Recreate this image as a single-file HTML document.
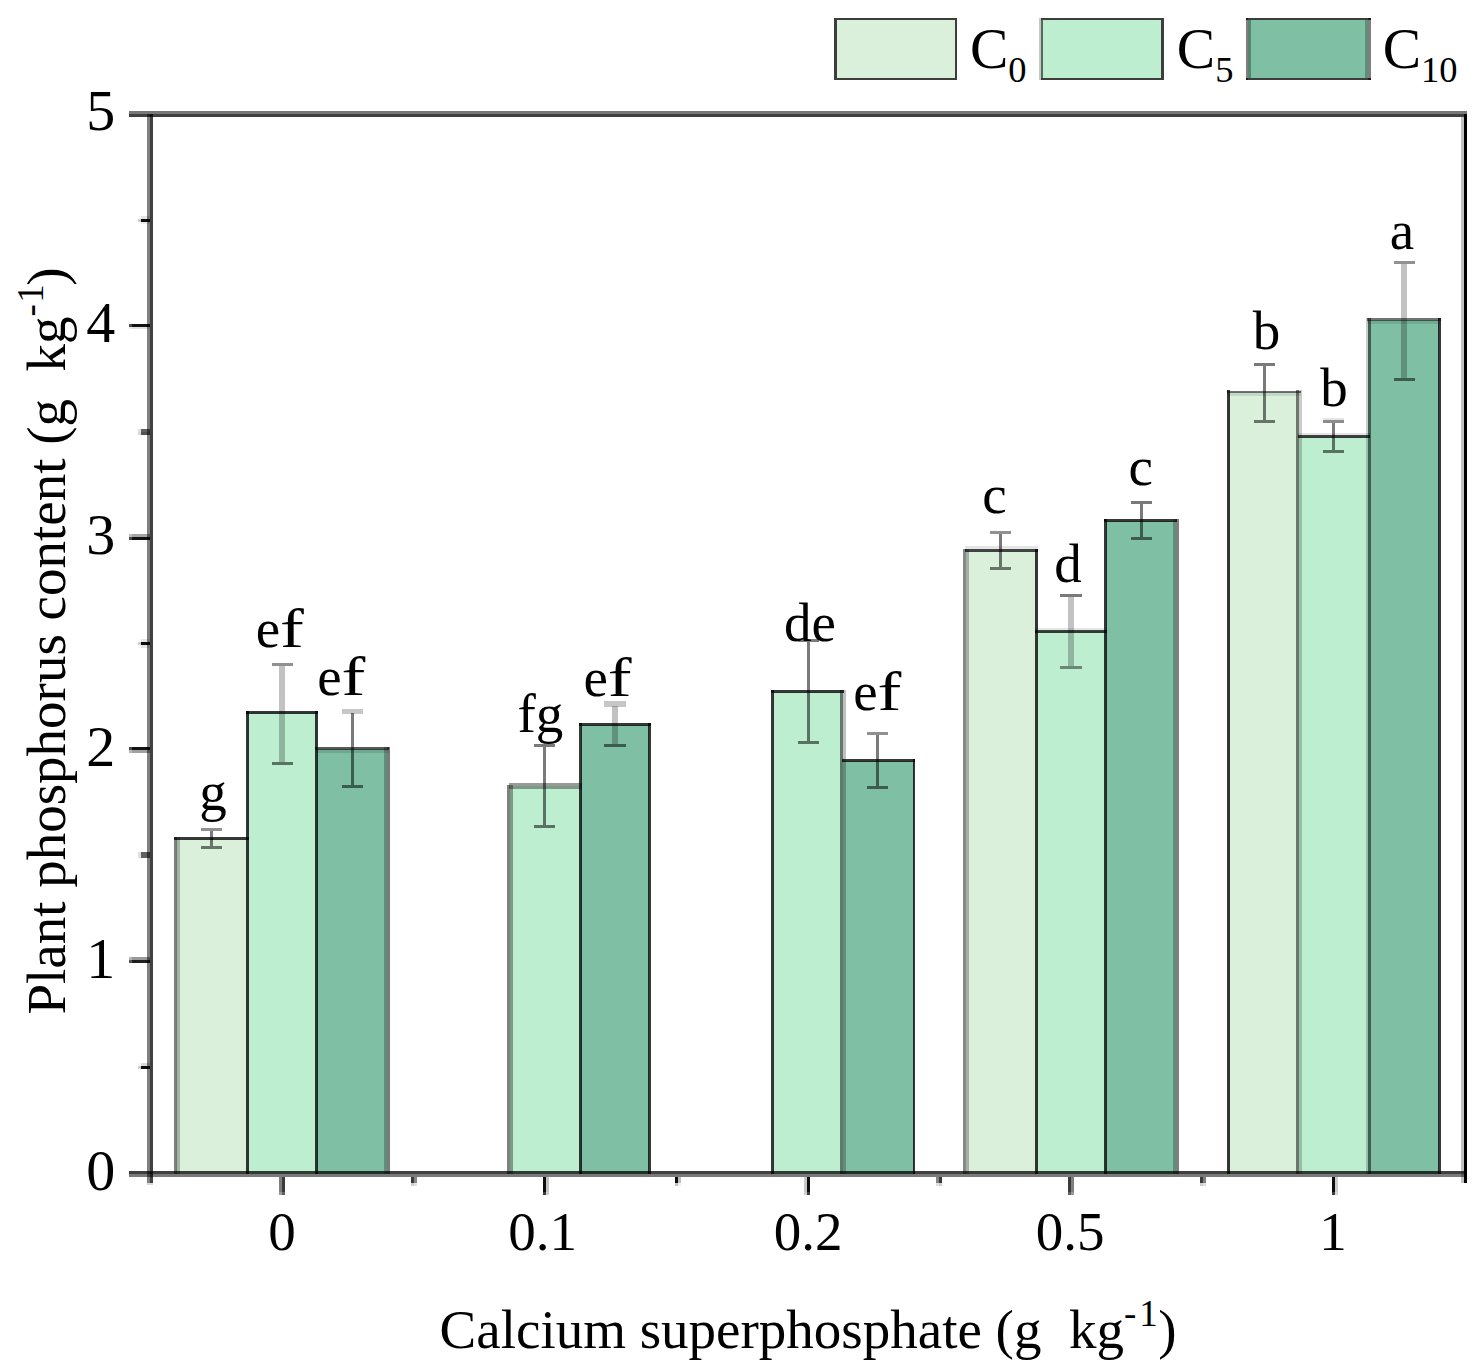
<!DOCTYPE html><html><head><meta charset="utf-8"><title>Plant phosphorus content</title><style>html,body{margin:0;padding:0;background:#fff;overflow:hidden;}svg{display:block;}text{font-family:"Liberation Serif", serif;fill:#000;}</style></head><body>
<svg width="1484" height="1370" viewBox="0 0 1484 1370" shape-rendering="crispEdges">
<rect x="0.0" y="0.0" width="1484.0" height="1370.0" fill="#fff"/>
<rect x="175.6" y="838.6" width="71.7" height="335.1" fill="#daf0db"/>
<rect x="247.3" y="712.4" width="69.3" height="461.3" fill="#bdeed0"/>
<rect x="316.6" y="748.5" width="70.5" height="425.2" fill="#7fbfa4"/>
<rect x="174.2" y="837.2" width="2.8" height="336.5" fill="rgba(0,0,0,0.50)"/>
<rect x="177.0" y="837.2" width="2.8" height="336.5" fill="rgba(0,0,0,0.25)"/>
<rect x="245.9" y="711.0" width="2.8" height="462.7" fill="rgba(0,0,0,0.78)"/>
<rect x="315.2" y="711.0" width="2.8" height="462.7" fill="rgba(0,0,0,0.78)"/>
<rect x="384.4" y="747.1" width="2.7" height="426.6" fill="rgba(0,0,0,0.25)"/>
<rect x="387.1" y="747.1" width="2.8" height="426.6" fill="rgba(0,0,0,0.52)"/>
<rect x="174.2" y="837.2" width="74.5" height="2.8" fill="rgba(0,0,0,0.78)"/>
<rect x="245.9" y="711.0" width="72.1" height="2.8" fill="rgba(0,0,0,0.78)"/>
<rect x="315.2" y="747.2" width="73.3" height="2.7" fill="rgba(0,0,0,0.65)"/>
<rect x="315.2" y="749.9" width="73.3" height="2.7" fill="rgba(0,0,0,0.12)"/>
<rect x="510.1" y="786.2" width="70.4" height="387.5" fill="#bdeed0"/>
<rect x="580.5" y="724.7" width="68.8" height="449.0" fill="#7fbfa4"/>
<rect x="507.1" y="784.8" width="3.0" height="388.9" fill="rgba(0,0,0,0.50)"/>
<rect x="510.1" y="784.8" width="2.7" height="388.9" fill="rgba(0,0,0,0.35)"/>
<rect x="579.1" y="723.3" width="2.8" height="450.4" fill="rgba(0,0,0,0.78)"/>
<rect x="647.9" y="723.3" width="2.8" height="450.4" fill="rgba(0,0,0,0.78)"/>
<rect x="508.7" y="783.1" width="73.2" height="3.1" fill="rgba(0,0,0,0.40)"/>
<rect x="508.7" y="786.2" width="73.2" height="2.8" fill="rgba(0,0,0,0.35)"/>
<rect x="579.1" y="723.3" width="71.6" height="2.8" fill="rgba(0,0,0,0.78)"/>
<rect x="772.5" y="691.5" width="70.4" height="482.2" fill="#bdeed0"/>
<rect x="842.9" y="760.5" width="71.0" height="413.2" fill="#7fbfa4"/>
<rect x="771.1" y="690.1" width="2.8" height="483.6" fill="rgba(0,0,0,0.78)"/>
<rect x="840.0" y="690.1" width="2.9" height="483.6" fill="rgba(0,0,0,0.49)"/>
<rect x="842.9" y="690.1" width="2.9" height="483.6" fill="rgba(0,0,0,0.25)"/>
<rect x="912.5" y="759.1" width="2.8" height="414.6" fill="rgba(0,0,0,0.78)"/>
<rect x="771.1" y="690.1" width="73.2" height="2.8" fill="rgba(0,0,0,0.78)"/>
<rect x="841.5" y="759.1" width="73.8" height="2.8" fill="rgba(0,0,0,0.78)"/>
<rect x="965.9" y="550.2" width="70.6" height="623.5" fill="#daf0db"/>
<rect x="1036.5" y="631.2" width="69.1" height="542.5" fill="#bdeed0"/>
<rect x="1105.6" y="520.5" width="70.4" height="653.2" fill="#7fbfa4"/>
<rect x="963.2" y="548.8" width="2.7" height="624.9" fill="rgba(0,0,0,0.47)"/>
<rect x="965.9" y="548.8" width="2.7" height="624.9" fill="rgba(0,0,0,0.26)"/>
<rect x="1035.1" y="548.8" width="2.8" height="624.9" fill="rgba(0,0,0,0.78)"/>
<rect x="1104.2" y="519.1" width="2.8" height="654.6" fill="rgba(0,0,0,0.78)"/>
<rect x="1173.2" y="519.1" width="2.8" height="654.6" fill="rgba(0,0,0,0.25)"/>
<rect x="1176.0" y="519.1" width="2.7" height="654.6" fill="rgba(0,0,0,0.50)"/>
<rect x="964.5" y="546.4" width="73.4" height="2.1" fill="rgba(0,0,0,0.10)"/>
<rect x="964.5" y="548.5" width="73.4" height="3.2" fill="rgba(0,0,0,0.72)"/>
<rect x="1035.1" y="628.0" width="71.9" height="2.0" fill="rgba(0,0,0,0.10)"/>
<rect x="1035.1" y="630.0" width="71.9" height="2.7" fill="rgba(0,0,0,0.75)"/>
<rect x="1104.2" y="519.1" width="73.2" height="2.8" fill="rgba(0,0,0,0.78)"/>
<rect x="1228.3" y="391.5" width="71.0" height="782.2" fill="#daf0db"/>
<rect x="1299.3" y="436.5" width="68.9" height="737.2" fill="#bdeed0"/>
<rect x="1368.2" y="319.6" width="71.0" height="854.1" fill="#7fbfa4"/>
<rect x="1226.9" y="390.1" width="2.8" height="783.6" fill="rgba(0,0,0,0.78)"/>
<rect x="1296.3" y="390.1" width="3.0" height="783.6" fill="rgba(0,0,0,0.50)"/>
<rect x="1299.3" y="390.1" width="2.3" height="783.6" fill="rgba(0,0,0,0.20)"/>
<rect x="1365.8" y="318.2" width="2.4" height="855.5" fill="rgba(0,0,0,0.20)"/>
<rect x="1368.2" y="318.2" width="2.9" height="855.5" fill="rgba(0,0,0,0.50)"/>
<rect x="1437.8" y="318.2" width="2.8" height="855.5" fill="rgba(0,0,0,0.78)"/>
<rect x="1226.9" y="390.5" width="73.8" height="2.3" fill="rgba(0,0,0,0.55)"/>
<rect x="1226.9" y="392.8" width="73.8" height="2.7" fill="rgba(0,0,0,0.10)"/>
<rect x="1297.9" y="432.5" width="71.7" height="2.7" fill="rgba(0,0,0,0.10)"/>
<rect x="1297.9" y="435.2" width="71.7" height="2.7" fill="rgba(0,0,0,0.75)"/>
<rect x="1366.8" y="318.1" width="73.8" height="2.9" fill="rgba(0,0,0,0.55)"/>
<rect x="1366.8" y="321.0" width="73.8" height="2.7" fill="rgba(0,0,0,0.10)"/>
<rect x="210.0" y="831.1" width="2.8" height="15.1" fill="rgba(0,0,0,0.52)"/>
<rect x="200.8" y="828.3" width="21.2" height="2.8" fill="rgba(0,0,0,0.43)"/>
<rect x="200.8" y="846.2" width="21.2" height="2.8" fill="rgba(0,0,0,0.52)"/>
<rect x="279.3" y="665.8" width="5.6" height="96.3" fill="rgba(0,0,0,0.24)"/>
<rect x="271.5" y="663.0" width="21.2" height="2.8" fill="rgba(0,0,0,0.43)"/>
<rect x="271.5" y="762.1" width="21.2" height="2.8" fill="rgba(0,0,0,0.52)"/>
<rect x="351.1" y="712.7" width="2.8" height="72.7" fill="rgba(0,0,0,0.52)"/>
<rect x="341.9" y="708.5" width="21.2" height="2.8" fill="rgba(0,0,0,0.22)"/>
<rect x="341.9" y="711.3" width="21.2" height="2.8" fill="rgba(0,0,0,0.22)"/>
<rect x="341.9" y="785.4" width="21.2" height="2.8" fill="rgba(0,0,0,0.52)"/>
<rect x="543.1" y="746.8" width="2.8" height="78.4" fill="rgba(0,0,0,0.52)"/>
<rect x="533.9" y="744.0" width="21.2" height="2.8" fill="rgba(0,0,0,0.52)"/>
<rect x="533.9" y="825.2" width="21.2" height="2.8" fill="rgba(0,0,0,0.52)"/>
<rect x="612.2" y="705.6" width="5.6" height="38.4" fill="rgba(0,0,0,0.24)"/>
<rect x="604.4" y="701.4" width="21.2" height="2.8" fill="rgba(0,0,0,0.22)"/>
<rect x="604.4" y="704.2" width="21.2" height="2.8" fill="rgba(0,0,0,0.22)"/>
<rect x="604.4" y="744.0" width="21.2" height="2.8" fill="rgba(0,0,0,0.52)"/>
<rect x="807.2" y="641.6" width="2.8" height="99.6" fill="rgba(0,0,0,0.52)"/>
<rect x="798.0" y="638.8" width="21.2" height="2.8" fill="rgba(0,0,0,0.52)"/>
<rect x="798.0" y="741.2" width="21.2" height="2.8" fill="rgba(0,0,0,0.52)"/>
<rect x="876.3" y="734.8" width="2.8" height="51.0" fill="rgba(0,0,0,0.52)"/>
<rect x="867.1" y="732.0" width="21.2" height="2.8" fill="rgba(0,0,0,0.43)"/>
<rect x="867.1" y="785.8" width="21.2" height="2.8" fill="rgba(0,0,0,0.52)"/>
<rect x="999.4" y="533.9" width="2.8" height="33.3" fill="rgba(0,0,0,0.52)"/>
<rect x="990.2" y="531.1" width="21.2" height="2.8" fill="rgba(0,0,0,0.43)"/>
<rect x="990.2" y="567.2" width="21.2" height="2.8" fill="rgba(0,0,0,0.52)"/>
<rect x="1068.1" y="596.8" width="5.6" height="69.1" fill="rgba(0,0,0,0.24)"/>
<rect x="1060.3" y="594.0" width="21.2" height="2.8" fill="rgba(0,0,0,0.52)"/>
<rect x="1060.3" y="665.9" width="21.2" height="2.8" fill="rgba(0,0,0,0.43)"/>
<rect x="1140.4" y="503.8" width="2.8" height="33.3" fill="rgba(0,0,0,0.52)"/>
<rect x="1131.2" y="501.0" width="21.2" height="2.8" fill="rgba(0,0,0,0.52)"/>
<rect x="1131.2" y="537.1" width="21.2" height="2.8" fill="rgba(0,0,0,0.52)"/>
<rect x="1262.7" y="365.5" width="2.8" height="54.5" fill="rgba(0,0,0,0.52)"/>
<rect x="1253.5" y="362.7" width="21.2" height="2.8" fill="rgba(0,0,0,0.52)"/>
<rect x="1253.5" y="420.0" width="21.2" height="2.8" fill="rgba(0,0,0,0.52)"/>
<rect x="1332.2" y="422.6" width="2.8" height="27.4" fill="rgba(0,0,0,0.52)"/>
<rect x="1323.0" y="418.2" width="21.2" height="2.2" fill="rgba(0,0,0,0.10)"/>
<rect x="1323.0" y="420.4" width="21.2" height="2.6" fill="rgba(0,0,0,0.45)"/>
<rect x="1323.0" y="450.0" width="21.2" height="2.8" fill="rgba(0,0,0,0.52)"/>
<rect x="1401.3" y="263.7" width="5.6" height="114.2" fill="rgba(0,0,0,0.24)"/>
<rect x="1393.5" y="260.9" width="21.2" height="2.8" fill="rgba(0,0,0,0.43)"/>
<rect x="1393.5" y="377.9" width="21.2" height="2.8" fill="rgba(0,0,0,0.52)"/>
<text x="199.2" y="810.0" font-size="55">g</text>
<text x="255.8" y="647.4" font-size="55">e</text>
<text transform="translate(280.1,647.4) scale(1.3,1)" font-size="55">f</text>
<text x="317.3" y="695.1" font-size="55">e</text>
<text transform="translate(341.6,695.1) scale(1.3,1)" font-size="55">f</text>
<text x="517.4" y="731.7" font-size="55">fg</text>
<text x="583.4" y="695.5" font-size="55">e</text>
<text transform="translate(607.7,695.5) scale(1.3,1)" font-size="55">f</text>
<text x="784.1" y="640.7" font-size="55">de</text>
<text x="853.2" y="710.1" font-size="55">e</text>
<text transform="translate(877.5,710.1) scale(1.3,1)" font-size="55">f</text>
<text x="982.2" y="513.4" font-size="55">c</text>
<text x="1054.3" y="581.8" font-size="55">d</text>
<text x="1128.4" y="485.4" font-size="55">c</text>
<text x="1252.8" y="349.2" font-size="55">b</text>
<text x="1320.3" y="406.0" font-size="55">b</text>
<text x="1389.8" y="249.0" font-size="55">a</text>
<rect x="147.2" y="113.6" width="2.9" height="1069.0" fill="rgba(0,0,0,0.50)"/>
<rect x="150.1" y="113.6" width="2.7" height="1069.0" fill="rgba(0,0,0,0.75)"/>
<rect x="147.2" y="1182.6" width="5.6" height="2.6" fill="rgba(0,0,0,0.15)"/>
<rect x="1461.2" y="116.6" width="3.0" height="1065.9" fill="rgba(0,0,0,0.24)"/>
<rect x="1464.2" y="113.6" width="3.0" height="1068.9" fill="rgba(0,0,0,1.00)"/>
<rect x="129.2" y="110.6" width="1338.0" height="3.0" fill="rgba(0,0,0,0.53)"/>
<rect x="129.2" y="113.6" width="1335.0" height="3.0" fill="rgba(0,0,0,0.75)"/>
<rect x="129.2" y="1170.8" width="1335.0" height="2.9" fill="rgba(0,0,0,0.75)"/>
<rect x="129.2" y="1173.7" width="1335.0" height="3.0" fill="rgba(0,0,0,0.52)"/>
<rect x="1464.2" y="1170.8" width="3.0" height="5.9" fill="rgba(0,0,0,1.00)"/>
<rect x="129.2" y="957.3" width="2.8" height="2.8" fill="rgba(0,0,0,0.30)"/>
<rect x="132.0" y="957.3" width="18.1" height="2.8" fill="rgba(0,0,0,0.40)"/>
<rect x="129.2" y="960.1" width="2.8" height="3.0" fill="rgba(0,0,0,0.66)"/>
<rect x="132.0" y="960.1" width="18.1" height="3.0" fill="rgba(0,0,0,0.88)"/>
<rect x="129.2" y="747.1" width="2.8" height="2.9" fill="rgba(0,0,0,0.70)"/>
<rect x="132.0" y="747.1" width="18.1" height="2.9" fill="rgba(0,0,0,0.93)"/>
<rect x="129.2" y="750.0" width="2.8" height="2.8" fill="rgba(0,0,0,0.28)"/>
<rect x="132.0" y="750.0" width="18.1" height="2.8" fill="rgba(0,0,0,0.37)"/>
<rect x="129.2" y="534.2" width="2.8" height="2.7" fill="rgba(0,0,0,0.26)"/>
<rect x="132.0" y="534.2" width="18.1" height="2.7" fill="rgba(0,0,0,0.35)"/>
<rect x="129.2" y="536.9" width="2.8" height="2.8" fill="rgba(0,0,0,0.70)"/>
<rect x="132.0" y="536.9" width="18.1" height="2.8" fill="rgba(0,0,0,0.93)"/>
<rect x="129.2" y="323.9" width="2.8" height="3.0" fill="rgba(0,0,0,0.70)"/>
<rect x="132.0" y="323.9" width="18.1" height="3.0" fill="rgba(0,0,0,0.93)"/>
<rect x="129.2" y="326.9" width="2.8" height="2.1" fill="rgba(0,0,0,0.09)"/>
<rect x="132.0" y="326.9" width="18.1" height="2.1" fill="rgba(0,0,0,0.12)"/>
<rect x="138.2" y="1063.0" width="2.9" height="3.0" fill="rgba(0,0,0,0.03)"/>
<rect x="141.1" y="1063.0" width="9.0" height="3.0" fill="rgba(0,0,0,0.15)"/>
<rect x="138.2" y="1066.0" width="2.9" height="2.8" fill="rgba(0,0,0,0.19)"/>
<rect x="141.1" y="1066.0" width="9.0" height="2.8" fill="rgba(0,0,0,0.95)"/>
<rect x="138.2" y="852.2" width="2.9" height="2.9" fill="rgba(0,0,0,0.12)"/>
<rect x="141.1" y="852.2" width="9.0" height="2.9" fill="rgba(0,0,0,0.62)"/>
<rect x="138.2" y="855.1" width="2.9" height="2.9" fill="rgba(0,0,0,0.12)"/>
<rect x="141.1" y="855.1" width="9.0" height="2.9" fill="rgba(0,0,0,0.62)"/>
<rect x="138.2" y="639.3" width="2.9" height="2.9" fill="rgba(0,0,0,0.02)"/>
<rect x="141.1" y="639.3" width="9.0" height="2.9" fill="rgba(0,0,0,0.10)"/>
<rect x="138.2" y="642.2" width="2.9" height="2.7" fill="rgba(0,0,0,0.19)"/>
<rect x="141.1" y="642.2" width="9.0" height="2.7" fill="rgba(0,0,0,0.95)"/>
<rect x="138.2" y="644.9" width="2.9" height="2.7" fill="rgba(0,0,0,0.02)"/>
<rect x="141.1" y="644.9" width="9.0" height="2.7" fill="rgba(0,0,0,0.10)"/>
<rect x="138.2" y="429.0" width="2.9" height="2.9" fill="rgba(0,0,0,0.12)"/>
<rect x="141.1" y="429.0" width="9.0" height="2.9" fill="rgba(0,0,0,0.62)"/>
<rect x="138.2" y="431.9" width="2.9" height="2.9" fill="rgba(0,0,0,0.14)"/>
<rect x="141.1" y="431.9" width="9.0" height="2.9" fill="rgba(0,0,0,0.68)"/>
<rect x="138.2" y="216.2" width="2.9" height="2.7" fill="rgba(0,0,0,0.02)"/>
<rect x="141.1" y="216.2" width="9.0" height="2.7" fill="rgba(0,0,0,0.10)"/>
<rect x="138.2" y="218.9" width="2.9" height="2.7" fill="rgba(0,0,0,0.19)"/>
<rect x="141.1" y="218.9" width="9.0" height="2.7" fill="rgba(0,0,0,0.95)"/>
<rect x="138.2" y="221.6" width="2.9" height="2.4" fill="rgba(0,0,0,0.02)"/>
<rect x="141.1" y="221.6" width="9.0" height="2.4" fill="rgba(0,0,0,0.08)"/>
<rect x="279.0" y="1176.7" width="3.0" height="15.3" fill="rgba(0,0,0,0.50)"/>
<rect x="279.0" y="1192.0" width="3.0" height="2.7" fill="rgba(0,0,0,0.40)"/>
<rect x="282.0" y="1176.7" width="3.0" height="15.3" fill="rgba(0,0,0,0.77)"/>
<rect x="282.0" y="1192.0" width="3.0" height="2.7" fill="rgba(0,0,0,0.62)"/>
<rect x="543.0" y="1176.7" width="2.9" height="15.3" fill="rgba(0,0,0,0.95)"/>
<rect x="543.0" y="1192.0" width="2.9" height="2.7" fill="rgba(0,0,0,0.76)"/>
<rect x="545.9" y="1176.7" width="2.9" height="15.3" fill="rgba(0,0,0,0.24)"/>
<rect x="545.9" y="1192.0" width="2.9" height="2.7" fill="rgba(0,0,0,0.19)"/>
<rect x="804.3" y="1176.7" width="2.6" height="15.3" fill="rgba(0,0,0,0.22)"/>
<rect x="804.3" y="1192.0" width="2.6" height="2.7" fill="rgba(0,0,0,0.18)"/>
<rect x="806.9" y="1176.7" width="3.0" height="15.3" fill="rgba(0,0,0,0.95)"/>
<rect x="806.9" y="1192.0" width="3.0" height="2.7" fill="rgba(0,0,0,0.76)"/>
<rect x="1068.3" y="1176.7" width="2.8" height="15.3" fill="rgba(0,0,0,0.77)"/>
<rect x="1068.3" y="1192.0" width="2.8" height="2.7" fill="rgba(0,0,0,0.62)"/>
<rect x="1071.1" y="1176.7" width="2.8" height="15.3" fill="rgba(0,0,0,0.50)"/>
<rect x="1071.1" y="1192.0" width="2.8" height="2.7" fill="rgba(0,0,0,0.40)"/>
<rect x="1332.2" y="1176.7" width="2.8" height="15.3" fill="rgba(0,0,0,0.95)"/>
<rect x="1332.2" y="1192.0" width="2.8" height="2.7" fill="rgba(0,0,0,0.76)"/>
<rect x="1335.0" y="1176.7" width="2.8" height="15.3" fill="rgba(0,0,0,0.20)"/>
<rect x="1335.0" y="1192.0" width="2.8" height="2.7" fill="rgba(0,0,0,0.16)"/>
<rect x="411.1" y="1176.7" width="2.8" height="6.1" fill="rgba(0,0,0,0.77)"/>
<rect x="411.1" y="1182.8" width="2.8" height="2.8" fill="rgba(0,0,0,0.19)"/>
<rect x="413.9" y="1176.7" width="2.9" height="6.1" fill="rgba(0,0,0,0.47)"/>
<rect x="413.9" y="1182.8" width="2.9" height="2.8" fill="rgba(0,0,0,0.12)"/>
<rect x="675.1" y="1176.7" width="2.9" height="6.1" fill="rgba(0,0,0,0.95)"/>
<rect x="675.1" y="1182.8" width="2.9" height="2.8" fill="rgba(0,0,0,0.24)"/>
<rect x="678.0" y="1176.7" width="2.8" height="6.1" fill="rgba(0,0,0,0.25)"/>
<rect x="678.0" y="1182.8" width="2.8" height="2.8" fill="rgba(0,0,0,0.06)"/>
<rect x="936.1" y="1176.7" width="2.8" height="6.1" fill="rgba(0,0,0,0.47)"/>
<rect x="936.1" y="1182.8" width="2.8" height="2.8" fill="rgba(0,0,0,0.12)"/>
<rect x="938.9" y="1176.7" width="2.9" height="6.1" fill="rgba(0,0,0,0.77)"/>
<rect x="938.9" y="1182.8" width="2.9" height="2.8" fill="rgba(0,0,0,0.19)"/>
<rect x="1200.1" y="1176.7" width="3.0" height="6.1" fill="rgba(0,0,0,0.77)"/>
<rect x="1200.1" y="1182.8" width="3.0" height="2.8" fill="rgba(0,0,0,0.19)"/>
<rect x="1203.1" y="1176.7" width="2.7" height="6.1" fill="rgba(0,0,0,0.50)"/>
<rect x="1203.1" y="1182.8" width="2.7" height="2.8" fill="rgba(0,0,0,0.12)"/>
<text x="115.2" y="1190.1" font-size="58" text-anchor="end">0</text>
<text x="115.2" y="978.1" font-size="58" text-anchor="end">1</text>
<text x="115.2" y="766.1" font-size="58" text-anchor="end">2</text>
<text x="115.2" y="554.0" font-size="58" text-anchor="end">3</text>
<text x="115.2" y="342.0" font-size="58" text-anchor="end">4</text>
<text x="115.2" y="130.0" font-size="58" text-anchor="end">5</text>
<text x="282.0" y="1250.3" font-size="55" text-anchor="middle">0</text>
<text x="542.6" y="1250.3" font-size="55" text-anchor="middle">0.1</text>
<text x="808.2" y="1250.3" font-size="55" text-anchor="middle">0.2</text>
<text x="1070.2" y="1250.3" font-size="55" text-anchor="middle">0.5</text>
<text x="1333.0" y="1250.3" font-size="55" text-anchor="middle">1</text>
<text x="439.6" y="1347.6" font-size="55">Calcium superphosphate (g&#160; kg<tspan font-size="37" dy="-21.6">-</tspan><tspan font-size="37" dx="3">1</tspan><tspan dy="21.6" dx="0.5">)</tspan></text>
<text transform="translate(65,1014.6) rotate(-90)" x="0" y="0" font-size="55">Plant phosphorus content (g&#160; kg<tspan font-size="37" dy="-21.6">-</tspan><tspan font-size="37" dx="1.5">1</tspan><tspan dy="21.6" dx="-1.5">)</tspan></text>
<rect x="836.8" y="20.4" width="117.7" height="57.1" fill="#daf0db"/>
<rect x="834.2" y="17.7" width="122.9" height="2.7" fill="rgba(0,0,0,0.76)"/>
<rect x="834.2" y="77.5" width="122.9" height="2.7" fill="rgba(0,0,0,0.76)"/>
<rect x="834.2" y="20.4" width="2.6" height="57.1" fill="rgba(0,0,0,0.76)"/>
<rect x="954.5" y="20.4" width="2.6" height="57.1" fill="rgba(0,0,0,0.76)"/>
<text x="970.0" y="67.8" font-size="57.5">C<tspan font-size="36.5" dy="14">0</tspan></text>
<rect x="1043.1" y="20.4" width="117.9" height="57.1" fill="#bdeed0"/>
<rect x="1040.5" y="17.7" width="123.1" height="2.7" fill="rgba(0,0,0,0.76)"/>
<rect x="1040.5" y="77.5" width="123.1" height="2.7" fill="rgba(0,0,0,0.76)"/>
<rect x="1039.1" y="17.7" width="1.4" height="62.5" fill="rgba(0,0,0,0.22)"/>
<rect x="1040.5" y="20.4" width="2.6" height="57.1" fill="#bdeed0"/>
<rect x="1040.5" y="20.4" width="2.6" height="57.1" fill="rgba(0,0,0,0.55)"/>
<rect x="1161.0" y="20.4" width="2.6" height="57.1" fill="rgba(0,0,0,0.76)"/>
<text x="1176.8" y="67.8" font-size="57.5">C<tspan font-size="36.5" dy="14">5</tspan></text>
<rect x="1248.8" y="20.4" width="119.3" height="57.1" fill="#7fbfa4"/>
<rect x="1246.2" y="17.7" width="124.5" height="2.7" fill="rgba(0,0,0,0.76)"/>
<rect x="1246.2" y="77.5" width="124.5" height="2.7" fill="rgba(0,0,0,0.76)"/>
<rect x="1245.6" y="17.7" width="2.6" height="62.5" fill="rgba(0,0,0,0.50)"/>
<rect x="1248.2" y="20.4" width="2.6" height="57.1" fill="#7fbfa4"/>
<rect x="1248.2" y="20.4" width="2.6" height="57.1" fill="rgba(0,0,0,0.30)"/>
<rect x="1365.1" y="20.4" width="2.8" height="57.1" fill="rgba(0,0,0,0.25)"/>
<rect x="1367.9" y="17.7" width="2.8" height="62.5" fill="rgba(0,0,0,0.50)"/>
<text x="1382.7" y="67.8" font-size="57.5">C<tspan font-size="36.5" dy="14">10</tspan></text>
</svg></body></html>
